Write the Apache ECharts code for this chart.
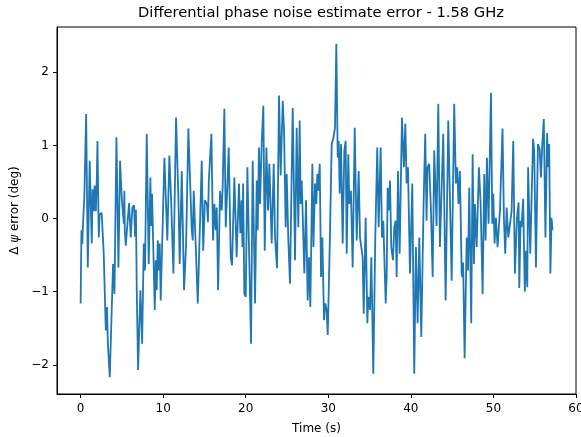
<!DOCTYPE html>
<html><head><meta charset="utf-8">
<script src="https://cdn.jsdelivr.net/npm/echarts@6/dist/echarts.min.js"></script>
<style>html,body{margin:0;padding:0;background:#fff}#c{width:581px;height:437px}</style>
</head><body><div id="c"></div>
<script>
const times = [0.00,0.10,0.20,0.30,0.45,0.67,0.87,1.10,1.35,1.45,1.60,1.70,1.85,1.95,2.04,2.20,2.30,2.55,2.80,3.05,3.20,3.30,3.53,3.70,3.93,4.10,4.34,4.58,4.78,4.98,5.23,5.30,5.35,5.47,5.67,5.87,6.07,6.27,6.47,6.60,6.70,6.80,6.96,7.24,7.45,7.65,7.80,8.01,8.25,8.45,8.55,8.65,8.98,9.10,9.22,9.35,9.48,9.58,9.70,10.15,10.50,10.75,10.95,11.24,11.56,11.85,12.00,12.25,12.53,12.78,13.05,13.46,13.58,13.70,13.82,14.19,14.67,14.85,15.05,15.30,15.42,15.53,15.67,15.84,16.04,16.20,16.37,16.49,16.65,16.89,17.09,17.20,17.41,17.58,17.75,17.94,18.18,18.34,18.62,18.90,19.18,19.35,19.50,19.60,19.68,19.83,20.00,20.20,20.32,20.64,20.84,21.13,21.33,21.45,21.60,21.73,21.93,22.13,22.30,22.50,22.70,22.86,23.14,23.39,23.55,23.79,24.03,24.23,24.48,24.64,24.84,24.96,25.16,25.36,25.69,25.97,26.17,26.37,26.53,26.65,26.78,26.86,27.10,27.30,27.50,27.66,27.82,28.07,28.20,28.39,28.55,28.67,28.80,28.96,29.12,29.28,29.48,29.64,29.80,29.93,30.17,30.41,30.61,30.81,30.97,31.14,31.26,31.38,31.54,31.74,31.94,32.10,32.23,32.42,32.54,32.74,32.95,33.20,33.44,33.68,33.84,34.16,34.29,34.52,34.73,34.85,35.05,35.21,35.45,35.69,35.93,36.10,36.34,36.50,36.66,36.95,37.07,37.19,37.31,37.47,37.63,37.83,37.99,38.15,38.28,38.44,38.64,38.92,39.16,39.33,39.49,39.65,39.89,40.17,40.41,40.61,40.82,41.02,41.26,41.54,41.74,41.90,42.02,42.22,42.42,42.64,42.83,43.11,43.32,43.52,43.92,44.21,44.53,44.94,45.25,45.45,45.61,45.77,45.94,46.15,46.23,46.33,46.51,46.76,46.92,47.07,47.31,47.48,47.64,47.76,47.97,48.24,48.45,48.69,48.89,49.05,49.21,49.41,49.70,49.86,49.98,50.14,50.30,50.50,50.79,51.10,51.27,51.43,51.60,51.80,52.00,52.20,52.40,52.60,52.85,53.05,53.13,53.29,53.40,53.60,53.80,53.95,54.10,54.20,54.46,54.80,54.94,55.15,55.39,55.60,55.75,55.91,56.10,56.30,56.50,56.63,56.75,56.90,57.04,57.15];
const errors = [-1.16,-0.16,-0.35,-0.05,0.29,1.43,-0.67,0.79,-0.34,0.40,0.10,0.45,0.10,0.50,1.06,-0.26,0.05,0.08,-0.48,-1.53,-1.21,-1.71,-2.17,-2.15,-0.62,-1.03,1.11,-0.67,0.79,0.29,-0.07,0.38,-0.16,-0.37,-0.07,0.21,-0.26,0.15,0.18,-0.25,0.12,-0.98,-2.07,-0.98,-1.71,-0.34,-0.71,1.16,-0.62,0.56,-0.10,0.34,-1.25,-0.57,-0.98,-0.30,-0.71,-0.34,-1.12,0.83,-0.30,0.86,0.30,-0.75,1.38,0.25,-0.62,0.65,-0.98,-0.34,1.23,-0.16,-0.30,0.38,0.02,-1.16,0.79,-0.44,0.25,0.20,-0.05,0.52,0.52,1.16,-0.30,0.20,-0.16,0.15,-0.98,0.38,0.11,0.40,1.50,-0.12,0.38,0.97,-0.53,-0.64,0.56,-0.53,0.48,-0.20,0.25,-0.39,0.48,-1.03,-1.07,0.70,0.01,-1.71,0.79,-1.16,0.52,-0.16,0.97,0.20,1.02,1.54,-0.44,0.97,0.11,0.75,-0.34,0.75,-0.26,-0.68,1.68,0.59,1.61,1.20,-0.12,0.61,-0.30,-0.89,1.51,-0.57,1.24,-0.12,1.34,0.20,0.52,0.20,-0.75,0.25,-1.12,-0.53,-1.21,0.75,-0.39,0.48,0.20,0.61,0.38,0.75,-0.80,-0.26,-1.39,-1.16,-1.25,-1.59,-0.39,1.02,1.10,1.24,2.39,0.83,1.06,0.34,1.02,-0.34,0.93,1.06,-0.48,0.88,0.20,0.38,-0.67,1.24,-0.30,0.65,-0.26,-0.53,-1.30,0.01,-1.43,-1.07,-1.25,-0.53,-2.12,-0.26,0.97,-0.12,0.97,-0.26,-0.03,-1.16,-0.80,0.42,0.11,0.52,-0.39,-0.57,-0.12,-0.03,-0.80,0.65,-0.48,1.38,0.70,1.30,0.48,0.70,-0.75,0.48,-2.12,-0.39,-1.43,-0.26,-1.62,0.20,1.16,-0.03,0.70,0.75,0.15,-0.80,0.93,-0.10,1.57,-0.39,1.16,-1.12,1.34,-0.85,1.57,0.48,0.70,0.20,0.65,-0.75,-0.80,-0.60,-1.91,-0.26,-0.71,0.42,-1.43,0.88,-0.62,0.20,-0.39,0.70,0.20,-1.03,0.61,-0.30,0.83,-0.07,1.72,-0.07,0.34,-0.34,0.01,-0.39,0.11,1.23,0.00,-0.48,0.15,-0.26,-0.26,0.10,1.06,-0.75,0.01,0.22,-0.95,-0.03,-0.12,0.27,-1.00,-0.44,-0.94,0.70,-0.48,1.09,0.93,-0.67,1.02,0.95,0.56,1.00,1.36,-0.26,1.17,0.70,1.02,-0.75,0.01,-0.16];
const xTicks = [0,10,20,30,40,50,60];
const yTicks = [-2,-1,0,1,2];
const titleText = 'Differential phase noise estimate error - 1.58 GHz';

const font = 'DejaVu Sans';
const chart = echarts.init(document.getElementById('c'), null, {renderer:'canvas'});
const minus = v => String(v).replace('-', '\u2212');
chart.setOption({
  animation:false,
  backgroundColor:'#fff',
  title:{text:titleText,left:133,top:1,
    textStyle:{fontFamily:font,fontSize:14.7,fontWeight:'normal',color:'#000'}},
  grid:{left:57,right:5,top:27,bottom:43,show:true,borderColor:'#000',borderWidth:1,backgroundColor:'transparent',
    outerBoundsMode:'none',containLabel:false},
  xAxis:{type:'value',min:-2.86,max:60.0,
    name:'Time (s)',nameLocation:'middle',nameGap:29,
    nameTextStyle:{fontFamily:font,fontSize:12,color:'#000'},
    axisLine:{show:true,onZero:false,lineStyle:{color:'#000',width:1}},
    axisTick:{show:true,length:4,customValues:xTicks,lineStyle:{color:'#000',width:1}},
    axisLabel:{customValues:xTicks,margin:9,fontFamily:font,fontSize:12,color:'#000',formatter:minus,hideOverlap:false},
    splitLine:{show:false}},
  yAxis:{type:'value',min:-2.398,max:2.618,
    name:'{n|Δ }{i|ψ}{n| error (deg)}',nameLocation:'middle',nameGap:34,nameRotate:90,
    nameTextStyle:{fontFamily:font,fontSize:12,color:'#000',
      rich:{n:{fontFamily:font,fontSize:12,color:'#000'},i:{fontFamily:font,fontSize:12,fontStyle:'italic',color:'#000'}}},
    axisLine:{show:true,onZero:false,lineStyle:{color:'#000',width:1}},
    axisTick:{show:true,length:4,customValues:yTicks,lineStyle:{color:'#000',width:1}},
    axisLabel:{customValues:yTicks,margin:8,fontFamily:font,fontSize:12,color:'#000',formatter:minus},
    splitLine:{show:false}},
  series:[{type:'line',data:times.map((t,i)=>[t,errors[i]]),showSymbol:false,
    lineStyle:{color:'#1f77b4',width:1.8},itemStyle:{color:'#1f77b4'}}]
});
</script></body></html>
